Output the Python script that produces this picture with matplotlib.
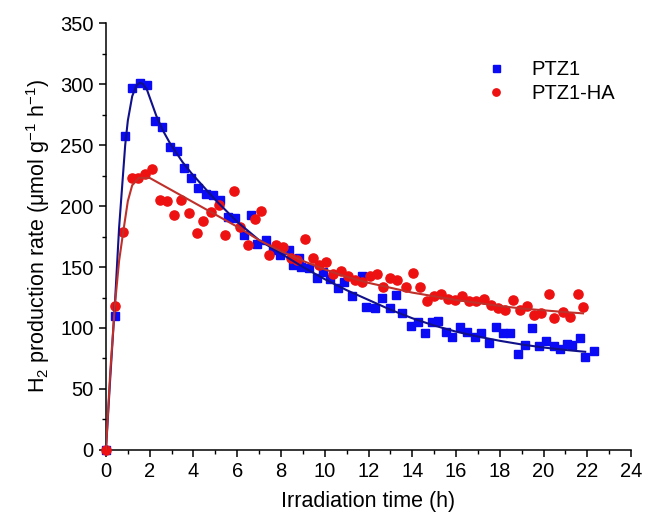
#!/usr/bin/env python3
"""H2 production rate vs irradiation time for PTZ1 and PTZ1-HA."""
import matplotlib

matplotlib.use("Agg")
import matplotlib.pyplot as plt
from matplotlib.ticker import MultipleLocator

plt.rcParams["font.family"] = ["Liberation Sans", "DejaVu Sans"]
plt.rcParams["mathtext.fontset"] = "custom"
plt.rcParams["mathtext.rm"] = "Liberation Sans"
plt.rcParams["mathtext.it"] = "Liberation Sans:italic"

# PTZ1 measured points (h, umol g-1 h-1)
ptz1_t = [0, 0.41, 0.88, 1.21, 1.55, 1.88, 2.23, 2.58, 2.94, 3.24, 3.55, 3.89,
          4.21, 4.55, 4.88, 5.23, 5.56, 5.91, 6.29, 6.62, 6.92, 7.3, 7.62, 7.96,
          8.35, 8.53, 8.81, 8.91, 9.26, 9.63, 9.9, 10.25, 10.6, 10.9, 11.24,
          11.7, 11.9, 12.3, 12.6, 12.97, 13.27, 13.55, 13.93, 14.27, 14.6,
          14.88, 15.19, 15.52, 15.82, 16.16, 16.5, 16.86, 17.16, 17.5, 17.83,
          18.15, 18.48, 18.82, 19.17, 19.47, 19.8, 20.12, 20.46, 20.76, 21.06,
          21.3, 21.67, 21.87, 22.28]
ptz1_rate = [0, 110, 257, 297, 301, 299, 270, 265, 248, 245, 231, 223,
             215, 210, 209, 205, 191, 190, 176, 193, 169, 172, 164, 160,
             164, 152, 157, 150, 149, 141, 146, 140, 133, 138, 126,
             143, 117, 116, 125, 116, 127, 112, 102, 105, 96,
             105, 106, 97, 93, 101, 97, 93, 96, 88, 101,
             96, 96, 79, 86, 100, 85, 89, 85, 83, 87,
             86, 92, 76, 81]

# PTZ1-HA measured points
ha_t = [0, 0.41, 0.8, 1.17, 1.47, 1.8, 2.12, 2.45, 2.79, 3.09, 3.44, 3.79,
        4.14, 4.42, 4.82, 5.18, 5.44, 5.83, 6.12, 6.47, 6.82, 7.1, 7.45, 7.75,
        8.1, 8.46, 8.72, 9.11, 9.45, 9.75, 10.05, 10.39, 10.74, 11.08, 11.39,
        11.72, 12.06, 12.4, 12.66, 13.0, 13.3, 13.7, 14.03, 14.33, 14.68,
        14.99, 15.3, 15.64, 15.95, 16.28, 16.61, 16.93, 17.27, 17.6, 17.92,
        18.25, 18.59, 18.94, 19.24, 19.54, 19.9, 20.23, 20.49, 20.87, 21.22,
        21.56, 21.8]
ha_rate = [0, 118, 179, 223, 223, 226, 230, 205, 204, 193, 205, 194,
           178, 188, 195, 201, 176, 212, 183, 168, 189, 196, 160, 168,
           166, 157, 156, 173, 157, 152, 154, 144, 147, 143, 139,
           138, 143, 144, 134, 141, 139, 134, 145, 134, 122,
           126, 128, 124, 123, 126, 122, 122, 124, 119, 116,
           115, 123, 115, 118, 111, 112, 128, 108, 113, 109,
           128, 117]

# fitted curves
ptz1_fit_t = [0, 0.2, 0.41, 0.6, 0.88, 1.0, 1.2, 1.4, 1.55, 1.7, 1.88, 2.1,
              2.3, 2.6, 2.94, 3.5, 3.9, 4.5, 5, 6, 7, 8, 9, 10, 11, 12, 13,
              14, 15, 16, 17, 18, 19, 20, 21, 21.9]
ptz1_fit = [0, 60, 120, 182, 250, 270, 290, 299, 301, 300, 295, 284,
            274, 262, 251, 236, 227, 215, 205, 187, 172, 161, 150, 140,
            131, 123, 115, 108, 102, 97, 93, 89.5, 86.5, 84, 82, 80.5]

ha_fit_t = [0, 0.2, 0.41, 0.6, 0.8, 1.0, 1.2, 1.5, 2.0, 3, 4, 5, 6, 7, 8, 9,
            10, 11, 12, 13, 14, 15, 16, 17, 18, 19, 20, 21, 21.8]
ha_fit = [0, 65, 119, 155, 180, 204, 217, 223, 223, 213, 203, 193, 183,
          172, 163, 155, 148, 142, 137, 133, 129, 126, 123, 120.5, 118, 116,
          114.5, 113, 112]

fig = plt.figure(figsize=(6.46, 5.17), dpi=100)
ax = fig.add_axes([0.164, 0.1296, 0.813, 0.8259])

ax.plot(ptz1_t, ptz1_rate, ls="none", marker="s", ms=6.3, color="#0a0af5",
        label="PTZ1", clip_on=False, zorder=3)
ax.plot(ha_t, ha_rate, ls="none", marker="o", ms=6.6, color="#ee1111",
        label="PTZ1-HA", clip_on=False, zorder=3)
ax.plot(ptz1_fit_t, ptz1_fit, color="#10108a", lw=1.5, zorder=4)
ax.plot(ha_fit_t, ha_fit, color="#c0302a", lw=1.5, zorder=4)

ax.set_xlim(0, 24)
ax.set_ylim(0, 350)
ax.xaxis.set_major_locator(MultipleLocator(2))
ax.xaxis.set_minor_locator(MultipleLocator(1))
ax.yaxis.set_major_locator(MultipleLocator(50))
ax.yaxis.set_minor_locator(MultipleLocator(25))
ax.tick_params(which="major", direction="out", length=5, width=1.1,
               labelsize=14.5, pad=4)
ax.tick_params(which="minor", direction="out", length=3, width=1.0)
for side in ("top", "right"):
    ax.spines[side].set_visible(False)
for side in ("left", "bottom"):
    ax.spines[side].set_linewidth(1.1)

ax.set_xlabel("Irradiation time (h)", fontsize=15.5, labelpad=7)
ax.set_ylabel("H$_2$ production rate (μmol g$^{-1}$ h$^{-1}$)", fontsize=15.5,
              labelpad=6)

ax.legend(loc="upper left", bbox_to_anchor=(0.68, 0.955), frameon=False,
          fontsize=14.5, markerscale=0.8, handletextpad=1.0, labelspacing=0.25,
          handlelength=1.5)

fig.savefig("out.png", dpi=100)
